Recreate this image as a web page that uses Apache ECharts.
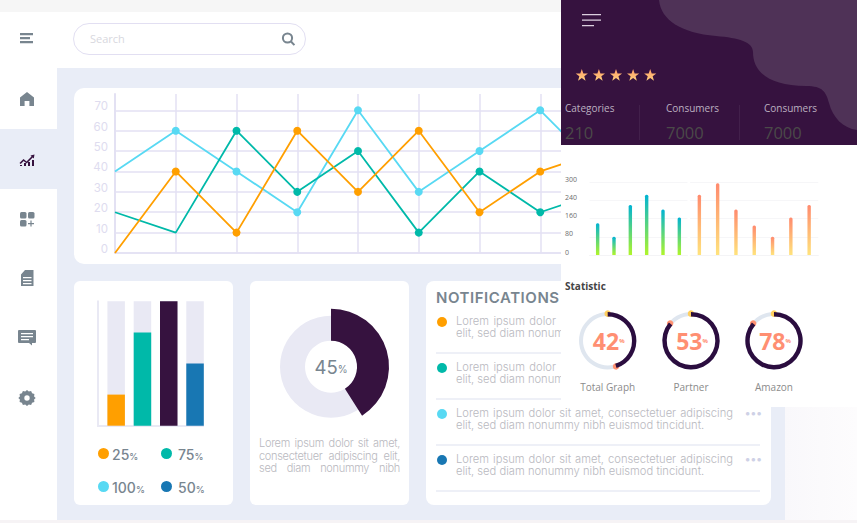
<!DOCTYPE html>
<html>
<head>
<meta charset="utf-8">
<title>Dashboard</title>
<script src="https://cdn.jsdelivr.net/npm/echarts@6/dist/echarts.min.js"></script>
<style>
html,body{margin:0;padding:0;width:857px;height:523px;overflow:hidden;background:#fff;font-family:Inter,sans-serif}
div{box-sizing:border-box}
.abs,.card,.txt{position:absolute}
#top{left:0;top:0;width:857px;height:12px;background:#f6f6f6}
#bottom{left:0;top:520px;width:857px;height:3px;background:#f6f3f5}
#rightfade{left:785px;top:12px;width:72px;height:508px;background:linear-gradient(90deg,#f9f8fb,#fdfcfd)}
#content{left:57px;top:68px;width:728px;height:452px;background:#e9edf7}
#sidebar{left:0;top:70px;width:57px;height:450px;background:#fff}
#active{left:0;top:129px;width:57px;height:60px;background:#e9edf7}
#search{left:73px;top:23px;width:233px;height:32px;border:1px solid #e2dff2;border-radius:16px}
.card{background:#fff}
#c1{left:74px;top:88px;width:500px;height:176px;border-radius:10px}
#c2{left:74px;top:281px;width:159px;height:224px;border-radius:6px}
#c3{left:250px;top:281px;width:159px;height:224px;border-radius:6px}
#c4{left:426px;top:281px;width:345px;height:224px;border-radius:8px}
#axisbase{left:97px;top:425px;width:107px;height:2px;background:#e9e9f4;z-index:2}
#chartMain,#chartRight{position:absolute;left:0;top:0;width:857px;height:523px}
#chartMain{z-index:2}
#dark{left:561px;top:0;width:296px;height:145px;background:#36123f;z-index:3;overflow:hidden}
#light{left:561px;top:145px;width:296px;height:262px;background:#fff;z-index:3}
#chartRight{z-index:4}
.txt{white-space:nowrap;z-index:2}
.top{z-index:5}
.lorem{font-weight:300;font-size:11.2px;line-height:12px;color:#b9b9c0}
.just{text-align:justify;text-align-last:justify;white-space:normal}
.narrow{font-size:11px;letter-spacing:-.3px}
.leg{font-size:14px;font-weight:500;color:#78858f}
.leg small{font-size:9px}
.dot{position:absolute;border-radius:50%;z-index:2}
.line{position:absolute;left:436px;width:324px;height:2px;background:#eef0f7;z-index:2}
.more{font-size:11px;font-weight:700;color:#ced1e6;letter-spacing:.5px}
.os{font-family:"Open Sans",sans-serif}
svg.abs{z-index:2}
</style>
</head>
<body>
<div class="abs" id="top"></div>
<div class="abs" id="rightfade"></div>
<div class="abs" id="content"></div>
<div class="abs" id="bottom"></div>
<div class="abs" id="sidebar"></div>
<div class="abs" id="active"></div>
<div class="abs" id="search"></div>
<div class="txt" style="left:90px;top:31px;font-size:11px;color:#d8d8de;font-family:'Open Sans'">Search</div>
<svg class="abs" style="left:0;top:0" width="320" height="420" fill="#78858f">
  <path d="M20 33h13v2.2H20zM20 37h10v2.2H20zM20 41h13v2.2H20z"/>
  <circle cx="287.5" cy="38" r="4.6" fill="none" stroke="#78858f" stroke-width="2"/>
  <path d="M291 41.5l3.4 3.6" stroke="#78858f" stroke-width="2"/>
  <path d="M27 92l7 5.5V106h-4.6v-5h-4.8v5H20v-8.5z"/>
  <path d="M19.500 163l4-4 3 2.500 5-5 -1-1 4-1-.7 4-1.100-1-6 6-3-2.500-3 3zM20 166h2v-1h-2zM24 166v-3h2v3zM28 166v-4h2v4zM32 166v-6h2v6z" fill="#36123f"/>
  <rect x="20" y="212" width="6.500" height="6.500" rx="1.500"/><rect x="28" y="212" width="6.500" height="6.500" rx="1.500"/><rect x="20" y="220" width="6.500" height="6.500" rx="1.500"/>
  <path d="M28 223h6v1.200h-6zM30.400 220.500h1.200v6h-1.200z"/>
  <path d="M25 270h8.500v16H21v-11.500zM23 277v1.300h8.500V277zM23 280v1.300h8.500V280zM23 283v1.300h8.500V283z" fill-rule="evenodd"/>
  <path d="M19 330h16a1 1 0 0 1 1 1v11a1 1 0 0 1-1 1h-3v2.500L29 343H19a1 1 0 0 1-1-1V331a1 1 0 0 1 1-1zM21 333v1.300h12V333zM21 336v1.300h12V336zM21 339v1.300h8V339z" fill-rule="evenodd"/>
  <path d="M27 390l1.800 1.600 2.300-.6 1 2.200 2.300.8-.3 2.400 1.600 1.600-1.600 1.600.3 2.400-2.300.8-1 2.200-2.300-.6-1.800 1.600-1.800-1.600-2.300.6-1-2.200-2.300-.8.3-2.400-1.600-1.600 1.600-1.600-.3-2.400 2.300-.8 1-2.200 2.300.6zM27 395.300a2.700 2.700 0 1 0 0 5.400 2.700 2.700 0 0 0 0-5.400z" fill-rule="evenodd"/>
</svg>

<div class="card" id="c1"></div>
<div class="card" id="c2"></div>
<div class="card" id="c3"></div>
<div class="card" id="c4"></div>
<div class="abs" id="axisbase"></div>

<div id="legend"></div>
<div class="txt lorem just narrow" style="left:259px;top:437px;width:141px">Lorem ipsum dolor sit amet,</div>
<div class="txt lorem just narrow" style="left:259px;top:449.500px;width:141px">consectetuer adipiscing elit,</div>
<div class="txt lorem just narrow" style="left:259px;top:462px;width:141px">sed diam nonummy nibh</div>

<div class="txt" style="left:436px;top:288px;font-size:15px;font-weight:600;letter-spacing:.55px;color:#78858f">NOTIFICATIONS</div>
<div id="notes"></div>

<div id="chartMain"></div>

<div class="abs" id="dark">
  <svg width="296" height="145" style="position:absolute;left:0;top:0">
    <path d="M98 0C100 20 120 33 155 36C178 38 192 42 192 52C192 72 208 86 245 86C262 86 265 92 268 103C272 118 282 128 296 130V0Z" fill="#4f3257"/>
    <path d="M21 14h19v1.200H21zM21 19.500h19v1.200H21zM21 25h12v1.200H21z" fill="#dccfdf"/>
    <path d="M78.500 105v35M178.500 105v35" stroke="#42204b"/>
    <defs><linearGradient id="star" x1="0" y1="0" x2="0" y2="1"><stop offset="0" stop-color="#ff9d68"/><stop offset="1" stop-color="#ffd07c"/></linearGradient></defs>
    <g id="stars" fill="url(#star)"></g>
  </svg>
  <div class="txt os" style="left:4px;top:101px;font-size:10px;color:#bcb0c0">Categories</div>
  <div class="txt os" style="left:105px;top:101px;font-size:10px;color:#bcb0c0">Consumers</div>
  <div class="txt os" style="left:203px;top:101px;font-size:10px;color:#bcb0c0">Consumers</div>
  <div class="txt os" style="left:4px;top:121px;font-size:16.500px;color:#4b4a49">210</div>
  <div class="txt os" style="left:105px;top:121px;font-size:16.500px;color:#4b4a49">7000</div>
  <div class="txt os" style="left:203px;top:121px;font-size:16.500px;color:#4b4a49">7000</div>
</div>
<div class="abs" id="light"></div>
<div class="txt top os" style="left:565px;top:279px;font-size:10px;font-weight:700;color:#444;">Statistic</div>
<div id="chartRight"></div>

<script>
// line chart
var lineTicks = [0, 10, 20, 30, 40, 50, 60, 70];
var lineCats = ['1', '2', '3', '4', '5', '6', '7', '8', '9'];
var skyLine = [40, 60, 40, 20, 70, 30, 50, 70, 40];
var tealLine = [20, 10, 60, 30, 50, 10, 40, 20, 30];
var orangeLine = [0, 40, 10, 60, 30, 60, 20, 40, 50];

// progress bars and legend
var progressCats = ['A', 'B', 'C', 'D'];
var progressVals = [25, 75, 100, 50];
var progressLegend = ['25', '75', '100', '50'];

// donut
var donutLabel = '45';
var donutVals = [41, 59];

// small bars
var smallTicks = ['0', '80', '160', '240', '300'];
var coolCats = ['a', 'b', 'c', 'd', 'e', 'f'];
var coolBars = [140, 80, 220, 265, 200, 165];
var warmCats = ['g', 'h', 'i', 'j', 'k', 'l', 'm'];
var warmBars = [265, 315, 200, 130, 80, 165, 220];

// gauges
var gaugeNames = ['Total Graph', 'Partner', 'Amazon'];
var gaugeLabels = ['42', '53', '78'];
var gaugeArcs = [45, 86, 86];

var SANS = 'Inter';
var ORANGE = '#ff9f00', TEAL = '#00b9a9', SKY = '#58d9f3', PURPLE = '#36123f', BLUE = '#1877b3';

// legend + notification rows
var legendColors = [ORANGE, TEAL, PURPLE, BLUE];
var legendDots = [ORANGE, TEAL, SKY, BLUE];
var html = '';
progressLegend.forEach(function (v, i) {
    var x = i % 2 ? 160.5 : 97.500, y = i < 2 ? 447.500 : 480.500;
    html += '<div class="dot" style="left:' + x + 'px;top:' + y + 'px;width:11px;height:11px;background:' + legendDots[i] + '"></div>';
    html += '<div class="txt leg" style="left:' + (i % 2 ? 178 : 112) + 'px;top:' + (y - 2) + 'px">' + v + '<small>%</small></div>';
});
document.getElementById('legend').innerHTML = html;

// the first two rows run under the white panel, only their left part shows
var noteDots = [ORANGE, TEAL, SKY, BLUE];
html = '';
noteDots.forEach(function (c, i) {
    var y = 316 + i * 46, cut = i < 2;
    html += '<div class="dot" style="left:437px;top:' + (y + 1) + 'px;width:10px;height:10px;background:' + c + '"></div>';
    html += '<div class="txt lorem just" style="left:456px;top:' + (y - 1) + 'px;width:' + (cut ? 100 : 277) + 'px">' +
        (cut ? 'Lorem ipsum dolor' : 'Lorem ipsum dolor sit amet, consectetuer adipiscing') + '</div>';
    html += '<div class="txt lorem" style="left:456px;top:' + (y + 11) + 'px">' +
        (cut ? 'elit, sed diam nonum' : 'elit, sed diam nonummy nibh euismod tincidunt.') + '</div>';
    html += '<div class="line" style="top:' + (y + 36) + 'px"></div>';
    if (!cut) {
        html += '<div class="txt more" style="left:745px;top:' + (y - 2) + 'px">•••</div>';
    }
});
document.getElementById('notes').innerHTML = html;

// stars
var starPts = [];
for (var k = 0; k < 10; k++) {
    var r = k % 2 ? 2.6 : 6.4, a = -Math.PI / 2 + k * Math.PI / 5;
    starPts.push((r * Math.cos(a)).toFixed(2) + ',' + (r * Math.sin(a)).toFixed(2));
}
var stars = '';
for (var s = 0; s < 5; s++) {
    stars += '<polygon transform="translate(' + (20.8 + s * 17.1) + ',75.5)" points="' + starPts.join(' ') + '"/>';
}
document.getElementById('stars').innerHTML = stars;

function lineSeries(vals, color, bare) {
    return {
        type: 'line', xAxisIndex: 0, yAxisIndex: 0, symbol: 'circle', symbolSize: 8,
        data: vals.map(function (v, i) {
            return bare.indexOf(i) >= 0 ? { value: v, symbol: 'none' } : v;
        }),
        lineStyle: { color: color, width: 1.8 }, itemStyle: { color: color }
    };
}

var chartMain = echarts.init(document.getElementById('chartMain'), null, { renderer: 'svg' });
chartMain.setOption({
    animation: false,
    grid: [
        { left: 115, top: 94, width: 486, height: 159 },
        { left: 103, top: 301.3, width: 105.2, height: 124.4 }
    ],
    xAxis: [
        {
            gridIndex: 0, type: 'category', boundaryGap: false, data: lineCats,
            axisLine: { lineStyle: { color: '#e3e1f3', width: 1.5 } },
            axisTick: { show: false }, axisLabel: { show: false },
            splitLine: { show: true, lineStyle: { color: '#e3e1f3', width: 1.5 } }
        },
        {
            gridIndex: 1, type: 'category', data: progressCats,
            axisLine: { show: false }, axisTick: { show: false }, axisLabel: { show: false }
        }
    ],
    yAxis: [
        {
            gridIndex: 0, type: 'value', min: 0, max: 78, interval: 10,
            axisLine: { show: true, lineStyle: { color: '#e3e1f3', width: 2 } },
            axisTick: { show: false },
            axisLabel: {
                color: '#dedcef', fontFamily: SANS, fontSize: 11.5, margin: 7,
                verticalAlign: 'bottom', lineHeight: 8, showMaxLabel: false
            },
            splitLine: { show: true, showMaxLine: false, lineStyle: { color: '#e3e1f3', width: 1.5 } }
        },
        {
            gridIndex: 1, type: 'value', min: 0, max: 100, offset: 5.7,
            axisLine: { show: true, lineStyle: { color: '#e9e9f4', width: 2 } },
            axisTick: { show: false }, axisLabel: { show: false }, splitLine: { show: false }
        }
    ],
    series: [
        lineSeries(skyLine, SKY, [0]),
        lineSeries(tealLine, TEAL, [0, 1]),
        lineSeries(orangeLine, ORANGE, [0]),
        {
            type: 'bar', xAxisIndex: 1, yAxisIndex: 1, barWidth: 17.5,
            showBackground: true, backgroundStyle: { color: '#e9e9f4' },
            data: progressVals.map(function (v, i) {
                return { value: v, itemStyle: { color: legendColors[i] } };
            })
        },
        {
            type: 'pie', center: [331, 366.7], radius: [26, 51], silent: true, z: 2,
            data: [{ value: 1, name: 'track', itemStyle: { color: '#e9e9f4' } }],
            labelLine: { show: false },
            label: {
                show: true, position: 'center',
                formatter: function () { return '{a|' + donutLabel + '}{b|%}'; },
                rich: {
                    a: { fontFamily: SANS, fontSize: 18.5, color: '#78858f' },
                    b: { fontFamily: SANS, fontSize: 10, color: '#78858f', padding: [4, 0, 0, 0] }
                }
            }
        },
        {
            type: 'pie', center: [331, 366.7], radius: [26, 58], startAngle: 90, silent: true, z: 3,
            label: { show: false }, labelLine: { show: false },
            data: [
                { value: donutVals[0], itemStyle: { color: PURPLE } },
                { value: donutVals[1], itemStyle: { color: 'transparent' } }
            ]
        }
    ]
});

function grad(top, bottom) {
    return new echarts.graphic.LinearGradient(0, 0, 0, 1, [
        { offset: 0, color: top }, { offset: 1, color: bottom }
    ]);
}
function smallBar(vals, idx, top, bottom) {
    return {
        type: 'bar', xAxisIndex: idx, yAxisIndex: idx, barWidth: 3.4, data: vals,
        itemStyle: { color: grad(top, bottom), borderRadius: [1.5, 1.5, 0, 0] }
    };
}
function smallY(idx, labels) {
    return {
        gridIndex: idx, type: 'value', min: 0, max: 320, interval: 80,
        axisLine: { show: false }, axisTick: { show: false },
        splitLine: { lineStyle: { color: '#f6f6f8', width: 1 } },
        axisLabel: {
            show: labels, color: '#6d6d6d', fontFamily: 'Open Sans', fontSize: 7, align: 'left', margin: 24.5,
            verticalAlign: 'bottom', lineHeight: 6,
            formatter: function (v) { return smallTicks[v / 80]; }
        }
    };
}
var centers = [[607.7, 340.7], [691, 340.7], [774, 340.7]];
var gaugeSeries = [];
gaugeNames.forEach(function (name, i) {
    var base = {
        type: 'gauge', center: centers[i], radius: 28.7, startAngle: 90, endAngle: -270, min: 0, max: 100,
        axisTick: { show: false }, splitLine: { show: false }, axisLabel: { show: false }
    };
    gaugeSeries.push(Object.assign({}, base, {
        axisLine: { lineStyle: { width: 4, color: [[1, '#dfe6ef']] } },
        progress: { show: true, width: 4.4, itemStyle: { color: '#2b0d3f' } },
        pointer: { icon: 'circle', length: 6.5, width: 6.5, offsetCenter: [0, '-83%'], itemStyle: { color: '#ff9272' } },
        anchor: { show: false },
        title: { offsetCenter: [0, '162%'], color: '#8b8b8b', fontFamily: 'Open Sans', fontSize: 10 },
        detail: {
            offsetCenter: [1, 0], valueAnimation: false,
            formatter: function () { return '{n|' + gaugeLabels[i] + '}{p|%}'; },
            rich: {
                n: { fontFamily: 'Open Sans', fontWeight: 700, fontSize: 23, color: '#ff8f72' },
                p: { fontFamily: 'Open Sans', fontWeight: 700, fontSize: 6, color: '#ff8f72' }
            }
        },
        data: [{ value: gaugeArcs[i], name: name }]
    }));
    gaugeSeries.push(Object.assign({}, base, {
        axisLine: { show: false }, progress: { show: false }, anchor: { show: false },
        pointer: { icon: 'circle', length: 6.5, width: 6.5, offsetCenter: [0, '-83%'], itemStyle: { color: '#ffcf5f' } },
        title: { show: false }, detail: { show: false },
        data: [{ value: 0 }]
    }));
});

var chartRight = echarts.init(document.getElementById('chartRight'), null, { renderer: 'svg' });
chartRight.setOption({
    animation: false,
    grid: [
        { left: 589.5, top: 182.2, width: 98, height: 72.8 },
        { left: 690.2, top: 182.2, width: 128.1, height: 72.8 }
    ],
    xAxis: [
        { gridIndex: 0, type: 'category', data: coolCats, axisLine: { lineStyle: { color: '#f4f4f6' } }, axisTick: { show: false }, axisLabel: { show: false } },
        { gridIndex: 1, type: 'category', data: warmCats, axisLine: { lineStyle: { color: '#f4f4f6' } }, axisTick: { show: false }, axisLabel: { show: false } }
    ],
    yAxis: [smallY(0, true), smallY(1, false)],
    series: [
        smallBar(coolBars, 0, '#00b3d4', '#b0f52a'),
        smallBar(warmBars, 1, '#ff8a6e', '#ffe37c')
    ].concat(gaugeSeries)
});
</script>
</body>
</html>
